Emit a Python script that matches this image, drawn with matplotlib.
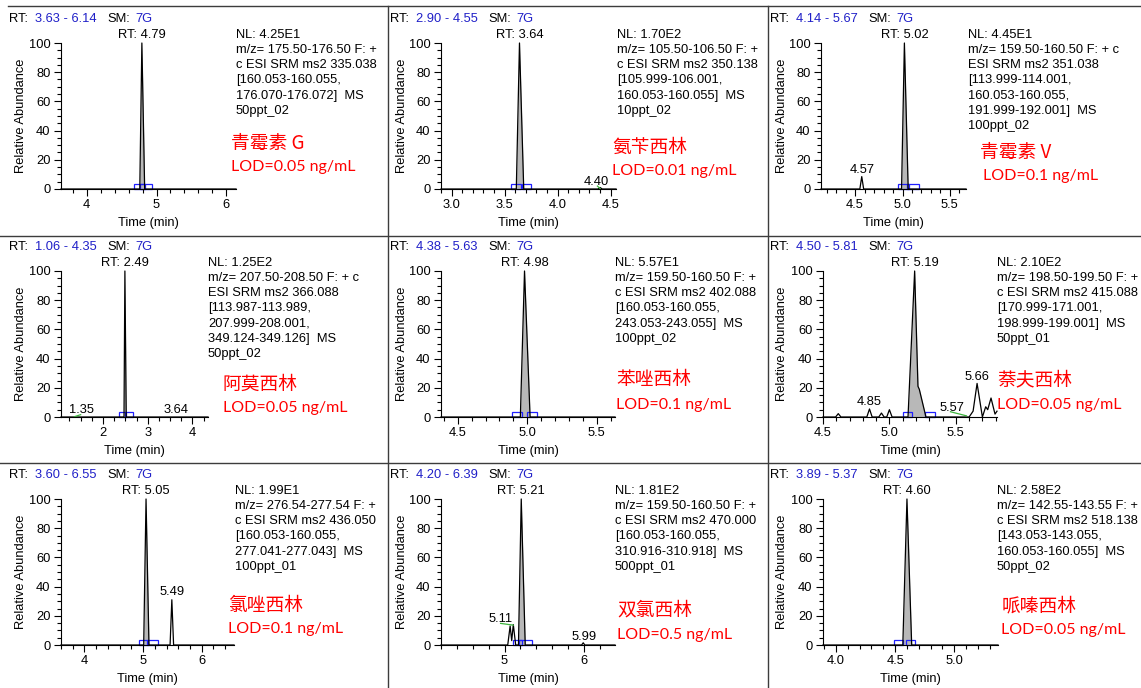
import matplotlib
matplotlib.use('Agg')
import matplotlib.pyplot as plt
import matplotlib.transforms as mtransforms
from matplotlib.lines import Line2D
from matplotlib.patches import Rectangle
from matplotlib.ticker import MultipleLocator, FormatStrFormatter

W, H = 1141, 688
plt.rcParams['font.family'] = ['Liberation Sans', 'DejaVu Sans']

# ---- compounds ---------------------------------------------------------
names = ['青霉素 G', '氨苄西林', '青霉素 V',
         '阿莫西林', '苯唑西林', '萘夫西林',
         '氯唑西林', '双氯西林', '哌嗪西林']
lods = ['LOD=0.05 ng/mL', 'LOD=0.01 ng/mL', 'LOD=0.1 ng/mL',
        'LOD=0.05 ng/mL', 'LOD=0.1 ng/mL', 'LOD=0.05 ng/mL',
        'LOD=0.1 ng/mL', 'LOD=0.5 ng/mL', 'LOD=0.05 ng/mL']
rt_ranges = [(3.63, 6.14), (2.90, 4.55), (4.14, 5.67),
             (1.06, 4.35), (4.38, 5.63), (4.50, 5.81),
             (3.60, 6.55), (4.20, 6.39), (3.89, 5.37)]
rt_main = [4.79, 3.64, 5.02, 2.49, 4.98, 5.19, 5.05, 5.21, 4.60]

info = [
    ['NL: 4.25E1', 'm/z= 175.50-176.50 F: +', 'c ESI SRM ms2 335.038',
     '[160.053-160.055,', '176.070-176.072]  MS', '50ppt_02'],
    ['NL: 1.70E2', 'm/z= 105.50-106.50 F: +', 'c ESI SRM ms2 350.138',
     '[105.999-106.001,', '160.053-160.055]  MS', '10ppt_02'],
    ['NL: 4.45E1', 'm/z= 159.50-160.50 F: + c', 'ESI SRM ms2 351.038',
     '[113.999-114.001,', '160.053-160.055,', '191.999-192.001]  MS', '100ppt_02'],
    ['NL: 1.25E2', 'm/z= 207.50-208.50 F: + c', 'ESI SRM ms2 366.088',
     '[113.987-113.989,', '207.999-208.001,', '349.124-349.126]  MS', '50ppt_02'],
    ['NL: 5.57E1', 'm/z= 159.50-160.50 F: +', 'c ESI SRM ms2 402.088',
     '[160.053-160.055,', '243.053-243.055]  MS', '100ppt_02'],
    ['NL: 2.10E2', 'm/z= 198.50-199.50 F: +', 'c ESI SRM ms2 415.088',
     '[170.999-171.001,', '198.999-199.001]  MS', '50ppt_01'],
    ['NL: 1.99E1', 'm/z= 276.54-277.54 F: +', 'c ESI SRM ms2 436.050',
     '[160.053-160.055,', '277.041-277.043]  MS', '100ppt_01'],
    ['NL: 1.81E2', 'm/z= 159.50-160.50 F: +', 'c ESI SRM ms2 470.000',
     '[160.053-160.055,', '310.916-310.918]  MS', '500ppt_01'],
    ['NL: 2.58E2', 'm/z= 142.55-143.55 F: +', 'c ESI SRM ms2 518.138',
     '[143.053-143.055,', '160.053-160.055]  MS', '50ppt_02'],
]

# ---- chromatogram traces (time, relative abundance) --------------------
times = [
    [3.63, 4.76, 4.79, 4.83, 6.14],
    [2.90, 3.61, 3.64, 3.68, 4.38, 4.40, 4.42, 4.55],
    [4.14, 4.55, 4.57, 4.59, 4.99, 5.02, 5.06, 5.67],
    [1.06, 2.47, 2.49, 2.52, 4.35],
    [4.38, 4.95, 4.98, 5.02, 5.63],
    [4.50, 4.595, 4.615, 4.635, 4.83, 4.85, 4.87, 4.92, 4.94, 4.96, 4.98,
     5.00, 5.02, 5.14, 5.19, 5.215, 5.225, 5.275, 5.60, 5.63, 5.66, 5.70,
     5.725, 5.74, 5.765, 5.795, 5.81],
    [3.60, 5.01, 5.05, 5.10, 5.46, 5.49, 5.52, 6.55],
    [4.20, 5.04, 5.07, 5.09, 5.11, 5.14, 5.175, 5.21, 5.26, 5.97, 5.99, 6.01, 6.39],
    [3.89, 4.565, 4.60, 4.64, 5.37],
]
abund = [
    [0, 0, 100, 0, 0],
    [0, 0, 100, 0, 0, 1, 0, 0],
    [0, 0, 8.5, 0, 0, 100, 0, 0],
    [0, 0, 100, 0, 0],
    [0, 0, 100, 0, 0],
    [0, 0, 2.3, 0, 0, 5.5, 0, 0, 2.7, 0, 0,
     5, 0, 0, 100, 21, 19, 0, 0, 4, 23, 0,
     7, 5, 13, 2, 4],
    [0, 0, 100, 0, 0, 31, 0, 0],
    [0, 0, 13, 3, 14, 0, 0, 100, 0, 0, 1.5, 0, 0],
    [0, 0, 100, 0, 0],
]
fill_ranges = [(4.76, 4.83), (3.61, 3.68), (4.99, 5.06), (2.47, 2.52), (4.95, 5.02),
               (5.14, 5.275), (5.01, 5.10), (5.175, 5.26), (4.565, 4.64)]
boxes = [
    [(4.68, 4.83), (4.765, 4.93)],
    [(3.56, 3.65), (3.66, 3.75)],
    [(4.95, 5.07), (5.05, 5.17)],
    [(2.35, 2.51), (2.50, 2.67)],
    [(4.89, 4.96), (5.00, 5.07)],
    [(5.10, 5.17), (5.27, 5.34)],
    [(4.93, 5.09), (5.06, 5.25)],
    [(5.10, 5.22), (5.18, 5.34)],
    [(4.49, 4.57), (4.59, 4.67)],
]
# minor peaks: (retention time, label x, label y)
side_peaks = [
    [],
    [(4.40, 4.365, 2.7)],
    [(4.57, 4.57, 11)],
    [(1.35, 1.51, 2.7), (3.64, 3.63, 2.7)],
    [],
    [(4.85, 4.85, 8.4), (5.66, 5.66, 25.5), (5.57, 5.47, 3.9)],
    [(5.49, 5.49, 34.5)],
    [(5.11, 4.95, 16), (5.99, 6.00, 3.4)],
    [],
]
leaders = [
    [], [((4.375, 4.40), (2.0, 0.3))], [], [((1.36, 1.50), (0.2, 1.6))], [],
    [((5.46, 5.58), (3.6, 0.8))], [], [((4.95, 5.11), (14.8, 13.6))], [],
]

x_major = [1, 0.5, 0.5, 1, 0.5, 0.5, 1, 1, 0.5]
x_minor = [0.2, 0.1, 0.1, 0.25, 0.1, 0.1, 0.2, 0.2, 0.1]
x_fmt = ['%d', '%.1f', '%.1f', '%d', '%.1f', '%.1f', '%d', '%d', '%.1f']

# ---- layout in pixels --------------------------------------------------
ax_lr = [(61, 236), (441, 616), (821, 966), (61, 208), (441, 615), (823, 997),
         (61, 234), (441, 615), (823, 998)]
row_dy = [0, 228, 456]
head_x = [9, 390, 770]
ylab_x = [21, 402, 782]
info_x = [236, 617, 968, 208, 615, 997, 235, 615, 997]
name_xy = [(231, 143), (612, 147), (980, 152), (223, 156), (616, 152), (997, 152),
           (228, 149), (617, 154), (1002, 150)]
lod_xy = [(231, 167), (612, 171), (983, 176), (223, 180), (616, 177), (997, 177),
          (228, 173), (617, 179), (1001, 174)]

FS = 9.3
BLUE = '#2020c8'

fig = plt.figure(figsize=(W / 100, H / 100), dpi=100)
px = mtransforms.Affine2D().scale(1 / W, -1 / H).translate(0, 1) + fig.transFigure

# frame lines between panels
for ln in [([8, W], [6, 6]), ([0, W], [236, 236]), ([0, W], [463, 463]),
           ([388, 388], [6, H]), ([768, 768], [6, H])]:
    fig.add_artist(Line2D(ln[0], ln[1], transform=px, color='#3c3c3c', lw=1))

for i in range(9):
    r, c = divmod(i, 3)
    dy = row_dy[r]
    l, rg = ax_lr[i]
    top, bot = 43 + dy, 189 + dy
    ax = fig.add_axes([l / W, 1 - bot / H, (rg - l) / W, (bot - top) / H])
    ax.set_xlim(*rt_ranges[i])
    ax.set_ylim(0, 100)
    ax.spines['top'].set_visible(False)
    ax.spines['right'].set_visible(False)
    ax.xaxis.set_major_locator(MultipleLocator(x_major[i]))
    ax.xaxis.set_minor_locator(MultipleLocator(x_minor[i]))
    ax.xaxis.set_major_formatter(FormatStrFormatter(x_fmt[i]))
    ax.yaxis.set_major_locator(MultipleLocator(20))
    ax.yaxis.set_minor_locator(MultipleLocator(5))
    ax.tick_params(which='major', direction='out', length=5, width=0.8,
                   labelsize=FS, pad=2.5)
    ax.tick_params(which='minor', direction='out', length=2.8, width=0.8)

    t, a = times[i], abund[i]
    f0, f1 = fill_ranges[i]
    ax.fill_between(t, a, where=[f0 <= x <= f1 for x in t], color='#b8b8b8', lw=0)
    ax.plot(t, a, color='black', lw=0.9, clip_on=False)
    for b0, b1 in boxes[i]:
        ax.add_patch(Rectangle((b0, 0), b1 - b0, 3.4, fill=False, ec='#1f1fff',
                               lw=0.9, clip_on=False))
    for (xs, ys) in leaders[i]:
        ax.plot(xs, ys, color='#3cb43c', lw=0.9, clip_on=False)

    ax.text(rt_main[i], 103.6, f'RT: {rt_main[i]:.2f}', ha='center',
            va='baseline', fontsize=FS, clip_on=False)
    for rt, lx, ly in side_peaks[i]:
        ax.text(lx, ly, f'{rt:.2f}', ha='center', va='baseline', fontsize=FS)

    # header line
    hx, hy = head_x[c], 21.5 + dy
    lo, hi = rt_ranges[i]
    fig.text(hx, hy, 'RT:', transform=px, fontsize=FS, va='baseline')
    fig.text(hx + 26, hy, f'{lo:.2f} - {hi:.2f}', transform=px, fontsize=FS,
             va='baseline', color=BLUE)
    fig.text(hx + 98, hy, 'SM:', transform=px, fontsize=FS, va='baseline')
    fig.text(hx + 126, hy, '7G', transform=px, fontsize=FS, va='baseline',
             color=BLUE)

    # scan info
    for k, line in enumerate(info[i]):
        fig.text(info_x[i], 37.5 + dy + 15.3 * k, line, transform=px,
                 fontsize=FS, va='baseline')

    # axis titles
    fig.text(ylab_x[c], 116 + dy, 'Relative Abundance', transform=px,
             fontsize=FS, rotation=90, ha='center', va='center')
    fig.text((l + rg) / 2, 223 + dy, 'Time (min)', transform=px, fontsize=FS,
             ha='center', va='center')

    # compound name and detection limit
    nx, ny = name_xy[i]
    fig.text(nx, ny + dy, names[i], transform=px, fontsize=13.5, color='red',
             va='center', family=['Noto Sans CJK SC', 'Lato'])
    lx, ly = lod_xy[i]
    fig.text(lx, ly + dy, lods[i], transform=px, fontsize=11.5, color='red',
             va='center', family=['Lato', 'DejaVu Sans'])

fig.savefig('out.png', dpi=100)
